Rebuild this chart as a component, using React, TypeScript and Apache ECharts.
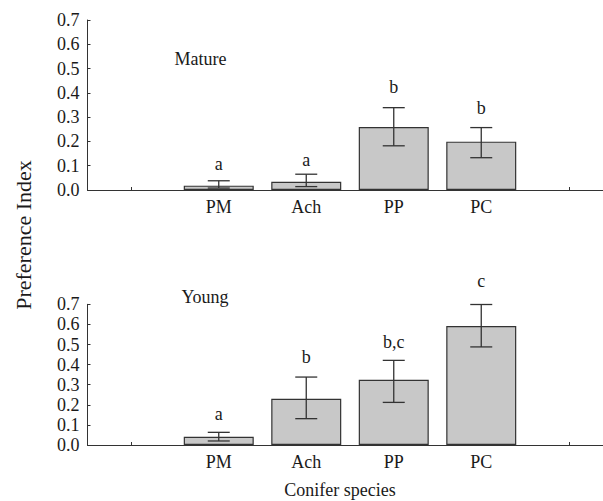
import React, { useEffect, useRef } from "react";
import * as echarts from "echarts";

const categories = ["", "PM", "Ach", "PP", "PC", " "];
const speciesIdx = [1, 2, 3, 4];

const matureMean = [0.018, 0.034, 0.259, 0.199];
const matureLow = [0.008, 0.014, 0.182, 0.133];
const matureHigh = [0.038, 0.065, 0.339, 0.257];
const matureLetters = ["a", "a", "b", "b"];
const matureLetterY = [0.108, 0.122, 0.425, 0.339];

const youngMean = [0.041, 0.23, 0.325, 0.592];
const youngLow = [0.02, 0.131, 0.212, 0.488];
const youngHigh = [0.063, 0.338, 0.421, 0.699];
const youngLetters = ["a", "b", "b,c", "c"];
const youngLetterY = [0.156, 0.436, 0.514, 0.817];

const yTicks = [0, 0.1, 0.2, 0.3, 0.4, 0.5, 0.6, 0.7];

const FONT = "Liberation Serif";
const TXT = "#1a1a1a";
const LINE = "#333";

function fullBar(vals: number[]) {
  const arr: any[] = categories.map(() => "-");
  speciesIdx.forEach((ci, i) => (arr[ci] = vals[i]));
  return arr;
}

export default function App() {
  const ref = useRef<HTMLDivElement>(null);
  useEffect(() => {
    if (!ref.current) return;
    const chart = echarts.init(ref.current, null, { renderer: "svg" });

    const xAxisBase = (gridIndex: number) => ({
      type: "category",
      gridIndex,
      data: categories,
      boundaryGap: true,
      axisLine: { show: true, lineStyle: { color: LINE, width: 1 } },
      axisTick: { show: true, alignWithLabel: true, inside: true, length: 3, lineStyle: { color: LINE } },
      axisLabel: { fontFamily: FONT, fontSize: 18, color: TXT, margin: 8 },
      splitLine: { show: false },
    });
    const yAxisBase = (gridIndex: number) => ({
      type: "value",
      gridIndex,
      min: 0,
      max: yTicks[yTicks.length - 1],
      interval: 0.1,
      axisLine: { show: true, lineStyle: { color: LINE, width: 1 } },
      axisTick: { show: true, inside: true, length: 3, lineStyle: { color: LINE } },
      axisLabel: {
        fontFamily: FONT,
        fontSize: 18,
        color: TXT,
        margin: 8,
        formatter: (v: number) => v.toFixed(1),
      },
      splitLine: { show: false },
    });

    const errSeries = (axisIdx: number, low: number[], high: number[]) => ({
      type: "custom",
      xAxisIndex: axisIdx,
      yAxisIndex: axisIdx,
      encode: { x: 0, y: [1, 2] },
      data: speciesIdx.map((ci, i) => [ci, low[i], high[i]]),
      z: 5,
      renderItem: (params: any, api: any) => {
        const x = api.value(0);
        const p1 = api.coord([x, api.value(1)]);
        const p2 = api.coord([x, api.value(2)]);
        const hw = 11;
        const style = { stroke: LINE, lineWidth: 1.3 };
        return {
          type: "group",
          children: [
            { type: "line", shape: { x1: p1[0], y1: p1[1], x2: p2[0], y2: p2[1] }, style },
            { type: "line", shape: { x1: p1[0] - hw, y1: p1[1], x2: p1[0] + hw, y2: p1[1] }, style },
            { type: "line", shape: { x1: p2[0] - hw, y1: p2[1], x2: p2[0] + hw, y2: p2[1] }, style },
          ],
        };
      },
    });

    const letterSeries = (axisIdx: number, ys: number[], letters: string[]) => ({
      type: "scatter",
      xAxisIndex: axisIdx,
      yAxisIndex: axisIdx,
      symbolSize: 0,
      clip: false,
      itemStyle: { opacity: 1 },
      data: speciesIdx.map((ci, i) => ({ value: [ci, ys[i]], name: letters[i] })),
      label: {
        show: true,
        position: "inside",
        formatter: (p: any) => p.name,
        fontFamily: FONT,
        fontSize: 18,
        color: TXT,
      },
      z: 6,
    });

    const barSeries = (axisIdx: number, vals: number[]) => ({
      type: "bar",
      xAxisIndex: axisIdx,
      yAxisIndex: axisIdx,
      data: fullBar(vals),
      barWidth: 70,
      itemStyle: { color: "#c8c8c8", borderColor: LINE, borderWidth: 1.2 },
    });

    chart.setOption({
      animation: false,
      backgroundColor: "#ffffff",
      textStyle: { fontFamily: FONT },
      grid: [
        { left: 87.5, right: 0.5, top: 20, height: 170 },
        { left: 87.5, right: 0.5, top: 304.3, height: 140.7 },
      ],
      xAxis: [xAxisBase(0), xAxisBase(1)],
      yAxis: [yAxisBase(0), yAxisBase(1)],
      series: [
        barSeries(0, matureMean),
        errSeries(0, matureLow, matureHigh),
        letterSeries(0, matureLetterY, matureLetters),
        barSeries(1, youngMean),
        errSeries(1, youngLow, youngHigh),
        letterSeries(1, youngLetterY, youngLetters),
      ],
      graphic: [
        {
          type: "text",
          x: 200.5,
          y: 59,
          style: { text: "Mature", fontFamily: FONT, fontSize: 18, fill: TXT, textAlign: "center", textVerticalAlign: "middle" },
        },
        {
          type: "text",
          x: 205,
          y: 297,
          style: { text: "Young", fontFamily: FONT, fontSize: 18, fill: TXT, textAlign: "center", textVerticalAlign: "middle" },
        },
        {
          type: "text",
          x: 23,
          y: 235,
          rotation: Math.PI / 2,
          style: { text: "Preference Index", fontFamily: FONT, fontSize: 22, fill: TXT, textAlign: "center", textVerticalAlign: "middle" },
        },
        {
          type: "text",
          x: 340,
          y: 490,
          style: { text: "Conifer species", fontFamily: FONT, fontSize: 18, fill: TXT, textAlign: "center", textVerticalAlign: "middle" },
        },
      ],
    });
    return () => chart.dispose();
  }, []);
  return (
    <div style={{ position: "absolute", left: 0, top: 0, width: 603, height: 501, overflow: "hidden", background: "#fff" }}>
      <div ref={ref} style={{ width: 613, height: 501 }} />
    </div>
  );
}
